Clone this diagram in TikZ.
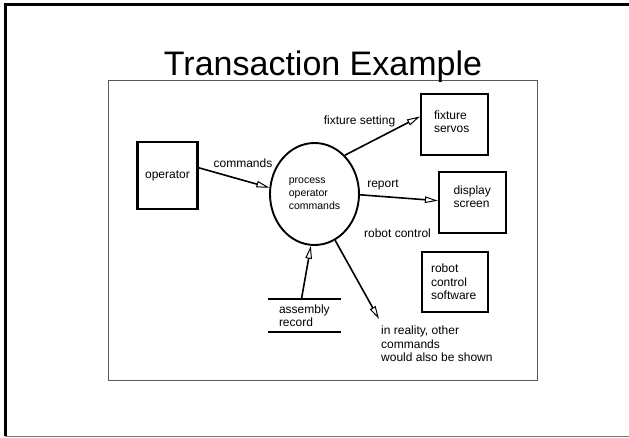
\documentclass[tikz,border=0pt]{standalone}
\usepackage{fontspec}
\setmainfont{Liberation Sans}
\usetikzlibrary{shapes.geometric,arrows.meta}

\begin{document}
\begin{tikzpicture}[x=1pt,y=-1pt]
    \tikzstyle{every node}+=[inner sep=0pt]
    \tikzstyle{box}=[draw, line width=2.2pt, minimum width=67pt, minimum height=61pt, align=left, font=\fontsize{12}{13.5}\selectfont]
    \tikzstyle{lbl}=[font=\fontsize{12}{13.5}\selectfont, align=left]
    \tikzstyle{flow}=[line width=1.6pt, -{Triangle[open,length=13pt,width=6.5pt,line width=1pt]}]
    \useasboundingbox (0,0) rectangle (629,437);
    \draw [black, line width=2.4pt] (629,4.5) -- (5.3,4.5) -- (5.3,436);
    \draw [black!55, line width=1pt] (5.3,436) -- (629,436);
    \draw [black!65, line width=1pt] (108,80) rectangle (537,380);
    \node (title) [anchor=base, font=\fontsize{34}{40}\selectfont] at (323,75) {Transaction Example};
    \node (op) [box, minimum width=60pt, minimum height=67pt] at (167.5,175.5) {operator};
    \node (proc) [draw, ellipse, line width=1.9pt, minimum width=89pt, minimum height=102pt, align=left, font=\fontsize{10.5}{12.8}\selectfont] at (314.5,194) {process\\operator\\commands};
    \node (fix) [box, text width=41pt] at (454.5,124.5) {fixture\\servos\\[-7.5pt]\mbox{}};
    \node (disp) [box, text width=38pt] at (472.5,202.5) {display\\screen\\[-1.5pt]\mbox{}};
    \node (robot) [box, minimum width=66pt, minimum height=60pt, text width=48pt] at (455,282) {robot\\control\\software};
    \node (asm) [lbl, minimum width=73pt, minimum height=33pt, text width=51pt] at (304.5,315.5) {assembly\\record};
    \draw [line width=1.6pt] (asm.north west) -- (asm.north east);
    \draw [line width=1.6pt] (asm.south west) -- (asm.south east);
    \coordinate (other) at (379,319);
    \node (note) [lbl, anchor=north west] at (381,326) {in reality, other\\commands\\would also be shown};
    \draw [flow] (op.14) -- (proc.172);
    \node (cmd) [lbl] at (243,163) {commands};
    \draw [flow] (proc.52) -- (fix.167);
    \node (set) [lbl] at (359.5,121) {fixture setting};
    \draw [flow] (proc.-1) -- (disp.177);
    \node (rep) [lbl] at (383,185) {report};
    \node (ctl) [lbl] at (397.5,233) {robot control};
    \draw [flow] ([xshift=-3pt]asm.north) -- (proc.-94);
    \draw [flow] (proc.-66) -- (other);
\end{tikzpicture}
\end{document}
